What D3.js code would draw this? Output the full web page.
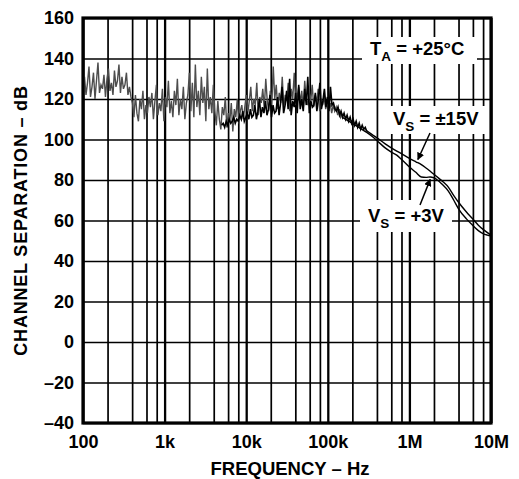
<!DOCTYPE html>
<html>
<head>
<meta charset="utf-8">
<script src="https://cdn.jsdelivr.net/npm/d3@7"></script>
<style>
body { margin: 0; background: #fff; }
text { font-family: "Liberation Sans", Arial, Helvetica, sans-serif; font-weight: bold; fill: #000; }
</style>
</head>
<body>
<script>
// Channel separation vs frequency

// axis ticks
let decades = [100, 1e3, 1e4, 1e5, 1e6, 1e7];
let decadeLabels = ["100", "1k", "10k", "100k", "1M", "10M"];
let minorMultiples = [2, 4, 6, 8];
let yTicks = [-40, -20, 0, 20, 40, 60, 80, 100, 120, 140, 160];

// low frequency noise sweep (+3V), evenly spaced in log f
let greyStartHz = 100, greyEndHz = 150000;
let greyDb = [
    124,131,122,128,136,121,126,133,120,129,138,123,127,125,132,121,130,135,124,128,122,134,126,129,137,123,131,125,127,133,122,126,121,
    118,111,122,113,109,120,115,124,110,117,113,121,
    116,123,110,119,127,112,118,114,125,109,121,116,129,113,119,111,124,117,130,112,120,115,126,110,118,122,133,114,128,111,137,116,124,112,131,118,126,109,135,115,121,113,127,
    114,107,119,110,105,116,112,121,106,113,109,118,104,115,111,120,108,114,117,110,
    116,122,113,119,126,114,120,117,128,112,121,118,125,115,130,119,114,124,117,136,120,127,115,123,118,131,116,122,119,128,114,125,120,133,117,121,126,118,124,115,129,120,117,123,119,127,116,122,118,125,114,120,117,121,115,119,116,118,113,117,114,116,112,115,111,113
];

// mid frequency noise sweep (±15V), evenly spaced in log f
let blackStartHz = 5000, blackEndHz = 300000;
let blackDb = [
    107,108,106,109,107,110,108,109,111,108,110,
    109,112,110,114,109,111,113,110,115,111,
    112,117,110,114,120,111,116,113,119,112,115,122,111,117,113,
    114,121,112,118,126,113,117,124,115,130,112,119,116,123,113,127,115,120,114,125,117,131,113,119,116,
    117,123,114,120,128,115,119,125,116,121,114,126,117,118,115,
    114,116,112,114,111,113,110,112,109,111,108,110,107,109,106,108,105,107,105,106,104
];

// high frequency roll-off
let vs15Freq = [3e5, 3.5e5, 4e5, 5e5, 6e5, 7e5, 8e5, 1e6, 1.2e6, 1.4e6, 1.6e6, 1.8e6, 2e6, 2.3e6, 2.6e6, 3e6, 3.5e6, 4e6, 5e6, 6e6, 7e6, 8e6, 1e7];
let vs15Db = [104.3, 102.4, 100.8, 98.0, 95.9, 94.3, 93.0, 90.7, 89.0, 87.6, 85.9, 84.3, 82.8, 80.8, 79.0, 76.5, 72.3, 69.0, 64.2, 60.7, 57.7, 55.6, 52.8];
let vs3Freq = [1.5e5, 2e5, 2.5e5, 3e5, 3.5e5, 4e5, 5e5, 6e5, 7e5, 8e5, 1e6, 1.2e6, 1.4e6, 1.6e6, 1.8e6, 2e6, 2.2e6, 2.5e6, 3e6, 3.5e6, 4e6, 5e6, 6e6, 7e6, 8e6, 9e6, 1e7];
let vs3Db = [111, 108, 105.5, 103.5, 101.5, 99.5, 96.0, 93.8, 92.3, 90.2, 86.4, 83.8, 81.5, 81.3, 81.5, 81.0, 80.0, 78.0, 74.5, 70.0, 65.8, 60.8, 57.5, 55.0, 53.5, 52.8, 52.4];

// SVG params
let svgWidth = 519;
let svgHeight = 479;
let margin = { top: 18, right: 28, bottom: 56, left: 83 };
let width = svgWidth - margin.left - margin.right;
let height = svgHeight - margin.top - margin.bottom;

let svg = d3.select("body")
    .append("svg")
    .attr("width", svgWidth)
    .attr("height", svgHeight);

let chartGroup = svg.append("g")
    .attr("transform", `translate(${margin.left}, ${margin.top})`);

let xScale = d3.scaleLog().domain([100, 1e7]).range([0, width]);
let yScale = d3.scaleLinear().domain([-40, 160]).range([height, 0]);

// grid lines
let minorFreqs = [];
decades.slice(0, -1).forEach(d => minorMultiples.forEach(m => minorFreqs.push(d * m)));

let gridMinor = chartGroup.append("g")
    .attr("transform", `translate(0, ${height})`)
    .call(d3.axisBottom(xScale).tickValues(minorFreqs).tickSize(-height).tickFormat(""));
gridMinor.selectAll("line").attr("stroke", "#000").attr("stroke-width", 1.7);

let gridMajor = chartGroup.append("g")
    .attr("transform", `translate(0, ${height})`)
    .call(d3.axisBottom(xScale).tickValues(decades).tickSize(-height).tickFormat(""));
gridMajor.selectAll("line").attr("stroke", "#000").attr("stroke-width", 2.3);

let gridY = chartGroup.append("g")
    .call(d3.axisLeft(yScale).tickValues(yTicks).tickSize(-width).tickFormat(""));
gridY.selectAll("line").attr("stroke", "#000").attr("stroke-width", 1.7);

chartGroup.selectAll(".domain").remove();

// noise sweeps
function sweep(values, startHz, endHz) {
    let idx = d3.scaleLinear().domain([0, values.length - 1]).range([Math.log10(startHz), Math.log10(endHz)]);
    return values.map((v, i) => ({ f: Math.pow(10, idx(i)), db: v }));
}

let line = d3.line()
    .x(d => xScale(d.f))
    .y(d => yScale(d.db));

chartGroup.append("path")
    .datum(sweep(greyDb, greyStartHz, greyEndHz))
    .attr("d", line)
    .attr("fill", "none")
    .attr("stroke", "#4d4d4d")
    .attr("stroke-width", 1.4);

chartGroup.append("path")
    .datum(sweep(blackDb, blackStartHz, blackEndHz))
    .attr("d", line)
    .attr("fill", "none")
    .attr("stroke", "#000")
    .attr("stroke-width", 1.6);

let smoothLine = d3.line()
    .x(d => xScale(d.f))
    .y(d => yScale(d.db))
    .curve(d3.curveMonotoneX);

chartGroup.append("path")
    .datum(vs15Freq.map((f, i) => ({ f: f, db: vs15Db[i] })))
    .attr("d", smoothLine)
    .attr("fill", "none")
    .attr("stroke", "#000")
    .attr("stroke-width", 1.4);

chartGroup.append("path")
    .datum(vs3Freq.map((f, i) => ({ f: f, db: vs3Db[i] })))
    .attr("d", smoothLine)
    .attr("fill", "none")
    .attr("stroke", "#000")
    .attr("stroke-width", 1.4);

// frame
chartGroup.append("rect")
    .attr("width", width)
    .attr("height", height)
    .attr("fill", "none")
    .attr("stroke", "#000")
    .attr("stroke-width", 3.2);

// tick labels
let xAxis = chartGroup.append("g")
    .attr("transform", `translate(0, ${height})`)
    .call(d3.axisBottom(xScale).tickValues(decades).tickSize(0).tickPadding(12)
        .tickFormat((d, i) => decadeLabels[i]));
let yAxis = chartGroup.append("g")
    .call(d3.axisLeft(yScale).tickValues(yTicks).tickSize(0).tickPadding(9)
        .tickFormat(d => d < 0 ? "\u2013" + Math.abs(d) : String(d)));
[xAxis, yAxis].forEach(a => {
    a.select(".domain").remove();
    a.attr("font-family", null).attr("font-size", null);
    a.selectAll("text").attr("font-size", 18).attr("fill", "#000");
});

// axis titles
svg.append("text")
    .attr("transform", `translate(27, ${margin.top + height / 2}) rotate(-90)`)
    .attr("text-anchor", "middle")
    .attr("font-size", 18)
    .attr("letter-spacing", 0.8)
    .text("CHANNEL SEPARATION \u2013 dB");

svg.append("text")
    .attr("x", margin.left + width / 2 + 3)
    .attr("y", 475)
    .attr("text-anchor", "middle")
    .attr("font-size", 18.5)
    .text("FREQUENCY \u2013 Hz");

// annotations
function label(boxX, boxY, boxW, boxH, tx, ty, main, sub, rest) {
    svg.append("rect")
        .attr("x", boxX).attr("y", boxY)
        .attr("width", boxW).attr("height", boxH)
        .attr("fill", "#fff");
    let t = svg.append("text")
        .attr("x", tx).attr("y", ty)
        .attr("font-size", 18.5);
    t.append("tspan").text(main);
    t.append("tspan").attr("dy", 6).attr("font-size", 13.5).text(sub);
    t.append("tspan").attr("dy", -6).text(rest);
}

label(362, 37, 115, 27, 370, 55, "T", "A", " = +25\u00B0C");
label(388, 106, 100, 28, 393, 125, "V", "S", " = \u00B115V");
label(360, 200, 92, 32, 368, 222, "V", "S", " = +3V");

// arrows
svg.append("defs").append("marker")
    .attr("id", "head")
    .attr("viewBox", "0 0 10 10")
    .attr("refX", 9).attr("refY", 5)
    .attr("markerWidth", 5).attr("markerHeight", 5)
    .attr("orient", "auto")
    .append("path")
    .attr("d", "M0,0 L10,5 L0,10 Z")
    .attr("fill", "#000");

let tip15 = [margin.left + xScale(1.27e6), margin.top + yScale(89.6)];
let tip3 = [margin.left + xScale(1.8e6), margin.top + yScale(80.8)];

svg.append("line")
    .attr("x1", 430).attr("y1", 133)
    .attr("x2", tip15[0]).attr("y2", tip15[1] - 1)
    .attr("stroke", "#000").attr("stroke-width", 1.5)
    .attr("marker-end", "url(#head)");

svg.append("line")
    .attr("x1", 420).attr("y1", 205)
    .attr("x2", tip3[0]).attr("y2", tip3[1] + 1)
    .attr("stroke", "#000").attr("stroke-width", 1.5)
    .attr("marker-end", "url(#head)");
</script>
</body>
</html>
